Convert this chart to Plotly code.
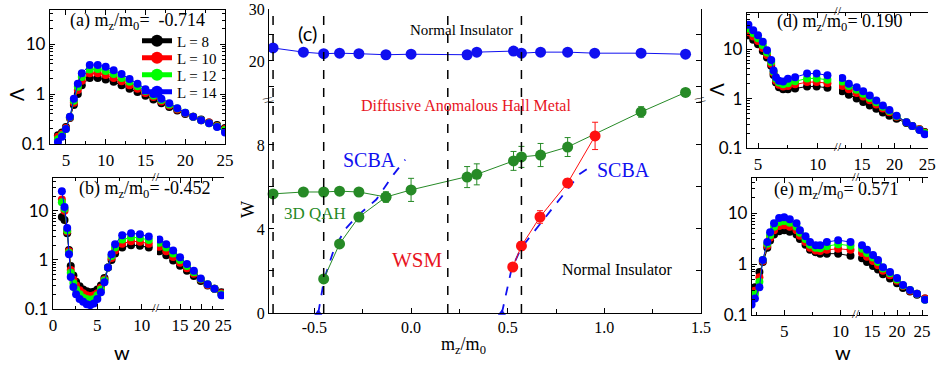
import plotly.graph_objects as go

# ---------------- data ----------------
L_LABELS = ["L = 8", "L = 10", "L = 12", "L = 14"]
L_COLORS = ["#000000", "#ff0000", "#00ff00", "#0000ff"]

# panel (a)  m_z/m_0 = -0.714
A_W = [4, 4.5, 5, 5.5, 6, 6.5, 7, 8, 9, 10, 11, 12, 13, 14, 15, 16, 17, 18, 19, 20, 21, 22, 23, 24, 25]
A_L8 = [0.15, 0.17, 0.22, 0.33, 0.6, 1.0, 1.5, 2.1, 2.1, 1.95, 1.75, 1.5, 1.28, 1.1, 0.92, 0.78, 0.65, 0.55, 0.47, 0.40, 0.35, 0.31, 0.27, 0.24, 0.21]
A_L10 = [0.14, 0.16, 0.21, 0.34, 0.67, 1.2, 1.85, 2.6, 2.6, 2.4, 2.1, 1.8, 1.5, 1.27, 1.05, 0.87, 0.71, 0.59, 0.49, 0.41, 0.35, 0.30, 0.27, 0.23, 0.20]
A_L12 = [0.125, 0.15, 0.2, 0.345, 0.73, 1.4, 2.2, 3.1, 3.15, 2.9, 2.5, 2.1, 1.75, 1.43, 1.15, 0.93, 0.76, 0.62, 0.51, 0.42, 0.35, 0.30, 0.26, 0.225, 0.19]
A_L14 = [0.11, 0.14, 0.2, 0.35, 0.8, 1.6, 2.6, 3.8, 3.8, 3.5, 3.0, 2.5, 2.0, 1.6, 1.25, 1.0, 0.8, 0.65, 0.52, 0.42, 0.35, 0.30, 0.26, 0.22, 0.17]

# panel (b)  m_z/m_0 = -0.452  (left / right of axis break)
B_WL = [1.0, 1.3, 1.6, 1.8, 2.0, 2.3, 2.6, 3.0, 3.4, 3.8, 4.2, 4.6, 5.0, 5.4, 5.8, 6.2, 6.6, 7.0, 7.8, 8.8, 9.8, 10.8]
B_L8 = [7.5, 6.5, 3.5, 1.6, 0.75, 0.48, 0.36, 0.29, 0.25, 0.23, 0.22, 0.225, 0.25, 0.3, 0.43, 0.7, 1.0, 1.35, 1.8, 2.0, 1.95, 1.8]
B_L10 = [17, 10, 3.8, 1.5, 0.62, 0.4, 0.3, 0.24, 0.21, 0.19, 0.185, 0.19, 0.21, 0.27, 0.4, 0.7, 1.1, 1.55, 2.15, 2.4, 2.35, 2.15]
B_L12 = [15, 11, 4.0, 1.4, 0.55, 0.34, 0.25, 0.2, 0.17, 0.16, 0.155, 0.16, 0.19, 0.25, 0.38, 0.7, 1.2, 1.8, 2.6, 2.9, 2.8, 2.55]
B_L14 = [25, 12, 4.5, 1.3, 0.45, 0.28, 0.2, 0.16, 0.14, 0.125, 0.12, 0.13, 0.16, 0.22, 0.35, 0.7, 1.3, 2.1, 3.2, 3.5, 3.35, 3.0]
B_WR = [10.2, 11.8, 13.4, 15.0, 16.6, 18.2, 19.8, 21.4, 23.0, 24.6]
B_R8 = [1.5, 1.25, 0.97, 0.76, 0.6, 0.47, 0.37, 0.3, 0.26, 0.22]
B_R10 = [1.85, 1.5, 1.15, 0.88, 0.68, 0.52, 0.4, 0.31, 0.26, 0.21]
B_R12 = [2.25, 1.8, 1.35, 1.0, 0.75, 0.56, 0.41, 0.32, 0.26, 0.2]
B_R14 = [2.6, 2.1, 1.55, 1.13, 0.83, 0.6, 0.42, 0.32, 0.26, 0.19]

# panel (d)  m_z/m_0 = 0.190
D_WL = [4.2, 4.6, 5.0, 5.4, 5.75, 6.1, 6.3, 6.5, 6.75, 7.1, 7.5, 8.1, 9.1, 9.9, 10.8]
D_L8 = [19, 15.5, 12.5, 9.2, 6.8, 4.6, 3.0, 2.1, 1.7, 1.55, 1.55, 1.6, 1.75, 1.75, 1.65]
D_L10 = [22, 18, 14.5, 10.5, 7.6, 5.0, 3.3, 2.3, 1.9, 1.75, 1.8, 1.95, 2.15, 2.15, 2.05]
D_L12 = [26, 21, 16.5, 12, 8.5, 5.5, 3.5, 2.5, 2.1, 1.95, 2.05, 2.25, 2.55, 2.55, 2.4]
D_L14 = [31, 24, 19, 14, 9.5, 6, 3.7, 2.7, 2.3, 2.2, 2.5, 2.7, 3.2, 3.2, 2.95]
D_WR = [12.0, 13.0, 14.2, 15.2, 16.2, 17.2, 18.2, 19.2, 20.3, 21.8, 22.7, 23.8, 24.6]
D_R8 = [1.4, 1.2, 1.0, 0.85, 0.72, 0.62, 0.52, 0.45, 0.39, 0.32, 0.28, 0.24, 0.21]
D_R10 = [1.8, 1.55, 1.3, 1.1, 0.92, 0.76, 0.63, 0.53, 0.43, 0.33, 0.28, 0.24, 0.205]
D_R12 = [2.2, 1.8, 1.5, 1.25, 1.03, 0.84, 0.68, 0.56, 0.44, 0.33, 0.28, 0.235, 0.2]
D_R14 = [2.6, 2.0, 1.7, 1.4, 1.15, 0.91, 0.72, 0.59, 0.45, 0.33, 0.28, 0.23, 0.19]

# panel (e)  m_z/m_0 = 0.571
E_WL = [2.1, 2.4, 2.8, 3.1, 3.5, 3.75, 4.1, 4.55, 5.0, 5.5, 6.1, 6.4, 6.9, 7.3, 7.8, 8.2, 8.8, 9.8, 10.9]
E_L8 = [0.22, 0.35, 0.7, 1.1, 2.1, 2.9, 3.8, 4.4, 4.6, 4.3, 3.8, 3.1, 2.4, 1.9, 1.7, 1.6, 1.6, 1.6, 1.45]
E_L10 = [0.21, 0.3, 0.55, 1.15, 2.3, 3.3, 4.6, 5.6, 5.8, 5.4, 4.6, 3.6, 2.7, 2.1, 1.85, 1.8, 1.9, 2.0, 1.9]
E_L12 = [0.19, 0.26, 0.45, 1.2, 2.5, 3.7, 5.4, 6.7, 7.0, 6.5, 5.4, 4.1, 3.1, 2.4, 2.1, 2.05, 2.25, 2.45, 2.3]
E_L14 = [0.16, 0.21, 0.35, 1.2, 2.7, 4.2, 6.3, 8.0, 8.3, 7.6, 6.3, 4.6, 3.5, 2.7, 2.35, 2.35, 2.7, 2.95, 2.7]
E_WR = [13.0, 14.0, 15.2, 16.2, 17.2, 18.6, 20.0, 21.2, 22.6, 24.0, 25.6]
E_R8 = [1.3, 1.1, 0.92, 0.78, 0.63, 0.52, 0.42, 0.34, 0.29, 0.25, 0.21]
E_R10 = [1.65, 1.4, 1.15, 0.95, 0.74, 0.6, 0.47, 0.37, 0.3, 0.26, 0.21]
E_R12 = [2.0, 1.65, 1.35, 1.1, 0.82, 0.66, 0.5, 0.38, 0.31, 0.26, 0.2]
E_R14 = [2.35, 1.9, 1.5, 1.2, 0.87, 0.7, 0.53, 0.39, 0.31, 0.26, 0.2]

# panel (c) phase diagram
NI_X = [-0.714, -0.557, -0.452, -0.37, -0.27, -0.13, 0.0, 0.29, 0.34, 0.53, 0.571, 0.67, 0.81, 0.95, 1.19, 1.42]
NI_W = [22.5, 21.7, 21.4, 21.5, 21.4, 21.2, 21.3, 21.2, 21.7, 21.9, 21.5, 21.7, 21.7, 21.5, 21.5, 21.3]
QAH_X = [-0.714, -0.557, -0.452, -0.37, -0.27, -0.13, 0.0, 0.29, 0.34, 0.53, 0.571, 0.67, 0.81, 1.19, 1.42]
QAH_W = [5.67, 5.76, 5.76, 5.8, 5.76, 5.52, 5.86, 6.47, 6.6, 7.24, 7.43, 7.52, 7.9, 9.57, 10.5]
QAH_ERR = [0, 0, 0, 0, 0, 0.25, 0.55, 0.5, 0.5, 0.45, 0.5, 0.55, 0.45, 0.25, 0]
WSML_X = [-0.452, -0.37, -0.27, -0.13]
WSML_W = [1.62, 3.29, 4.57, 5.52]
WSMR_X = [0.526, 0.571, 0.667, 0.81, 0.952]
WSMR_W = [2.19, 3.19, 4.57, 6.19, 8.43]
WSMR_ERR = [0, 0.2, 0.3, 0.2, 0.65]
SCBA_LX = [-0.48, -0.45, -0.40, -0.34, -0.28, -0.18, -0.09, -0.03]
SCBA_LW = [0, 1.6, 3.0, 4.0, 4.6, 5.4, 6.6, 7.3]
SCBA_RX = [0.47, 0.52, 0.57, 0.62, 0.68, 0.75, 0.82, 0.87, 0.91]
SCBA_RW = [0, 2.1, 3.1, 3.7, 4.4, 5.2, 6.0, 6.6, 6.85]
BOUNDARIES = [-0.714, -0.452, 0.190, 0.571]

# ---------------- helpers ----------------
WPX, HPX = 940, 365
SERIF = "Liberation Serif"
SANS = "Lato"


def dx(a, b):
    return [a / WPX, b / WPX]


def dy(top, bottom):
    return [1 - bottom / HPX, 1 - top / HPX]


def px(x):
    return x / WPX


def py(y):
    return 1 - y / HPX


fig = go.Figure()
LEGEND_IDS = ["legend", "legend2", "legend3", "legend4"]


def add_lambda(ws, series, xa, ya, legend=False):
    for i, vals in enumerate(series):
        fig.add_trace(go.Scatter(
            x=ws, y=vals, xaxis=xa, yaxis=ya, mode="lines+markers",
            line=dict(color=L_COLORS[i], width=1),
            marker=dict(color=L_COLORS[i], size=8),
            name=L_LABELS[i], showlegend=legend, legend=LEGEND_IDS[i], legendgroup=L_LABELS[i]))


add_lambda(A_W, [A_L8, A_L10, A_L12, A_L14], "x", "y", legend=True)
add_lambda(B_WL, [B_L8, B_L10, B_L12, B_L14], "x2", "y2")
add_lambda(B_WR, [B_R8, B_R10, B_R12, B_R14], "x3", "y2")
add_lambda(D_WL, [D_L8, D_L10, D_L12, D_L14], "x4", "y4")
add_lambda(D_WR, [D_R8, D_R10, D_R12, D_R14], "x5", "y4")
add_lambda(E_WL, [E_L8, E_L10, E_L12, E_L14], "x6", "y6")
add_lambda(E_WR, [E_R8, E_R10, E_R12, E_R14], "x7", "y6")

# panel (c)
BLUE_C = "#1010f0"
GREEN_C = "#268a26"
RED_C = "#ff1010"
fig.add_trace(go.Scatter(x=SCBA_LX, y=SCBA_LW, xaxis="x8", yaxis="y8", mode="lines",
                         line=dict(color=BLUE_C, width=1.8, dash="dash"), showlegend=False))
fig.add_trace(go.Scatter(x=SCBA_RX, y=SCBA_RW, xaxis="x8", yaxis="y8", mode="lines",
                         line=dict(color=BLUE_C, width=1.8, dash="dash"), showlegend=False))
fig.add_trace(go.Scatter(x=[SCBA_LX[0], SCBA_RX[0]], y=[SCBA_LW[0], SCBA_RW[0]], xaxis="x8", yaxis="y8",
                         mode="markers", marker=dict(color=BLUE_C, size=7, symbol="triangle-up"),
                         showlegend=False, cliponaxis=False))
fig.add_trace(go.Scatter(x=NI_X, y=NI_W, xaxis="x8", yaxis="y9", mode="lines+markers",
                         line=dict(color=BLUE_C, width=1), marker=dict(color=BLUE_C, size=11),
                         showlegend=False))
fig.add_trace(go.Scatter(x=QAH_X, y=QAH_W, xaxis="x8", yaxis="y8", mode="lines+markers",
                         line=dict(color=GREEN_C, width=1), marker=dict(color=GREEN_C, size=11),
                         error_y=dict(type="data", array=QAH_ERR, color=GREEN_C, thickness=1, width=3),
                         showlegend=False, cliponaxis=False))
fig.add_trace(go.Scatter(x=WSML_X, y=WSML_W, xaxis="x8", yaxis="y8", mode="lines+markers",
                         line=dict(color=GREEN_C, width=1), marker=dict(color=GREEN_C, size=11),
                         showlegend=False))
fig.add_trace(go.Scatter(x=WSMR_X, y=WSMR_W, xaxis="x8", yaxis="y8", mode="lines+markers",
                         line=dict(color=RED_C, width=1), marker=dict(color=RED_C, size=11),
                         error_y=dict(type="data", array=WSMR_ERR, color=RED_C, thickness=1, width=3),
                         showlegend=False))

# ---------------- axes ----------------
TICKFONT_SERIF = dict(family=SERIF, size=17, color="black")
TICKFONT_SANS = dict(family=SANS, size=17, color="black")
BASE = dict(showgrid=False, zeroline=False, showline=True, linecolor="black", linewidth=1.3,
            ticks="inside", ticklen=5, tickwidth=1, tickcolor="black", automargin=False)

LOG_MINOR = [0.2, 0.3, 0.4, 0.5, 0.6, 0.7, 0.8, 0.9, 2, 3, 4, 5, 6, 7, 8, 9, 20, 30, 40, 50]


def logy(dom, rng, **kw):
    d = dict(BASE, type="log", domain=dom, range=rng, tickvals=[0.1, 1, 10], ticktext=["0.1", "1", "10"],
             tickfont=TICKFONT_SANS, minor=dict(tickvals=LOG_MINOR, ticks="inside", ticklen=3, tickcolor="black"))
    d.update(kw)
    return d


def linx(dom, rng, tv, minor, **kw):
    d = dict(BASE, domain=dom, range=rng, tickvals=tv, ticktext=[str(v) for v in tv],
             tickfont=TICKFONT_SERIF, minor=dict(tickvals=minor, ticks="inside", ticklen=3, tickcolor="black"))
    d.update(kw)
    return d


lay = {}
# (a)
lay["xaxis"] = linx(dx(50, 225), [3, 25], [5, 10, 15, 20, 25], [7.5, 12.5, 17.5, 22.5], anchor="y", mirror="ticks")
lay["yaxis"] = logy(dy(10, 144), [-1, 1.68], anchor="x", mirror="ticks")
# (b)
lay["xaxis2"] = linx(dx(53, 155), [0, 11.5], [0, 5, 10], [2.5, 7.5], anchor="y2", mirror="ticks")
lay["xaxis3"] = linx(dx(157, 224), [9.65, 25.2], [15, 20, 25], [12.5, 17.5, 22.5], anchor="y2", mirror="ticks")
lay["yaxis2"] = logy(dy(178, 309), [-1, 1.67], anchor="x2")
lay["yaxis3"] = logy(dy(178, 309), [-1, 1.67], anchor="x3", overlaying="y2", side="right", showticklabels=False)
# (d)
lay["xaxis4"] = linx(dx(747, 837), [4.08, 11.6], [5, 10], [7.5], anchor="y4", mirror="ticks")
lay["xaxis5"] = linx(dx(839, 928), [11.5, 25.1], [15, 20, 25], [12.5, 17.5, 22.5], anchor="y4", mirror="ticks")
lay["yaxis4"] = logy(dy(13, 148), [-1, 1.73], anchor="x4")
lay["yaxis5"] = logy(dy(13, 148), [-1, 1.73], anchor="x5", overlaying="y4", side="right", showticklabels=False)
# (e)
lay["xaxis6"] = linx(dx(752, 855), [2.14, 11.3], [5, 10], [2.5, 7.5], anchor="y6", mirror="ticks")
lay["xaxis7"] = linx(dx(857, 928), [12.0, 26.2], [15, 20, 25], [12.5, 17.5, 22.5], anchor="y6", mirror="ticks")
lay["yaxis6"] = logy(dy(178, 315), [-1, 1.69], anchor="x6")
lay["yaxis7"] = logy(dy(178, 315), [-1, 1.69], anchor="x7", overlaying="y6", side="right", showticklabels=False)
# (c)
C_XT = [-0.5, 0.0, 0.5, 1.0, 1.5]
C_XTXT = ["-0.5", "0.0", "0.5", "1.0", "1.5"]
C_XMINOR = [-0.75, -0.25, 0.25, 0.75, 1.25]
lay["xaxis8"] = dict(BASE, domain=dx(269, 701), range=[-0.735, 1.5], anchor="y8", tickvals=C_XT, ticktext=C_XTXT,
                     tickfont=dict(family=SERIF, size=16, color="black"),
                     minor=dict(tickvals=C_XMINOR, ticks="inside", ticklen=4, tickcolor="black"))
lay["xaxis9"] = dict(BASE, range=[-0.735, 1.5], anchor="y9", overlaying="x8", side="top", tickvals=C_XT,
                     showticklabels=False,
                     minor=dict(tickvals=C_XMINOR, ticks="inside", ticklen=4, tickcolor="black"))
lay["yaxis8"] = dict(BASE, domain=dy(88, 313), range=[0, 10.71], anchor="x8", tickvals=[0, 4, 8],
                     tickfont=dict(family=SERIF, size=16, color="black"), mirror="ticks",
                     minor=dict(tickvals=[2, 6, 10], ticks="inside", ticklen=5, tickcolor="black"))
lay["yaxis9"] = dict(BASE, domain=dy(9, 88), range=[14.8, 30], anchor="x8", tickvals=[20, 30],
                     tickfont=dict(family=SERIF, size=16, color="black"), mirror="ticks",
                     minor=dict(tickvals=[15, 25], ticks="inside", ticklen=5, tickcolor="black"))

shapes = []
for b in BOUNDARIES:
    shapes.append(dict(type="line", xref="x8", yref="paper", x0=b, x1=b, y0=py(313), y1=py(9),
                       line=dict(color="black", width=1.5, dash="dash")))

MZ = "m<sub>z</sub>/m<sub>0</sub>"
ann = []


def text(x, y, s, size=16, color="black", family=SERIF, angle=0, bg=None):
    d = dict(x=px(x), y=py(y), xref="paper", yref="paper", text=s, showarrow=False,
             font=dict(family=family, size=size, color=color), textangle=angle,
             xanchor="center", yanchor="middle")
    if bg:
        d["bgcolor"] = bg
    ann.append(d)


# panel titles
text(137, 22, "(a) " + MZ + "=  -0.714", size=18)
text(145, 189, "(b) " + MZ + "= -0.452", size=18)
text(840, 23, "(d) " + MZ + "= 0.190", size=18)
text(836, 191, "(e) " + MZ + "= 0.571", size=18)
# axis titles
text(17, 95, "Λ", size=19, family=SANS, angle=-90)
text(716, 90, "Λ", size=19, family=SANS, angle=-90)
text(122, 352, "w", size=20, family=SANS)
text(843, 352, "w", size=20, family=SANS)
text(248, 210, "W", size=18, angle=-90)
text(463, 345, MZ, size=18)
# panel (c) labels
text(307, 33, "(c)", size=20, family=SANS)
text(461, 30, "Normal Insulator", size=15)
text(466, 105, "Diffusive Anomalous Hall Metal", size=16, color="#e8141e")
text(369, 160, "SCBA", size=20, color=BLUE_C)
text(623, 170, "SCBA", size=20, color=BLUE_C)
text(315, 213, "3D QAH", size=17, color=GREEN_C)
text(417, 260, "WSM", size=21, color="#e8141e")
text(617, 269, "Normal Insulator", size=16)
# axis-break marks
for (bx, by) in [(156, 309), (156, 178), (838, 148), (838, 13), (856, 315), (856, 178)]:
    text(bx, by - 2, "//", size=13, family=SERIF)
for (bx, by) in [(269, 100), (701, 100)]:
    text(bx, by, "//", size=13, family=SERIF, angle=60)

legends = {}
for lid, ycen in zip(LEGEND_IDS, [41, 58, 75, 92]):
    legends[lid] = dict(x=px(137), y=py(ycen), xanchor="left", yanchor="middle", bgcolor="rgba(0,0,0,0)",
                        font=dict(family=SERIF, size=15, color="black"), itemsizing="constant",
                        itemwidth=30, borderwidth=0)

fig.update_layout(
    width=940, height=365, margin=dict(l=0, r=0, t=0, b=0),
    plot_bgcolor="white", paper_bgcolor="white",
    shapes=shapes, annotations=ann,
    **legends, **lay)

fig.write_html("out.html", config={"displayModeBar": False},
               post_script="document.body.style.margin='0px';document.body.style.overflow='hidden';")
